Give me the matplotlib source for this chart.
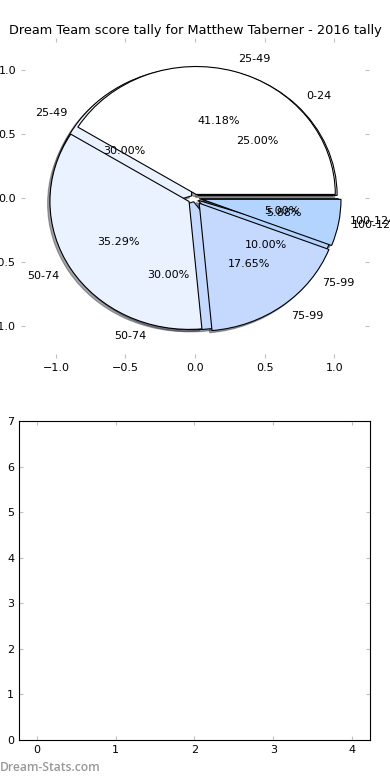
import matplotlib
matplotlib.use('Agg')
import matplotlib.pyplot as plt

# tally 2016 (pie de cima) e tally anterior (pie de baixo)
labels_2016 = ['25-49', '50-74', '75-99', '100-124']
counts_2016 = [7, 6, 3, 1]
labels_prev = ['0-24', '25-49', '50-74', '75-99', '100-124']
counts_prev = [5, 6, 6, 2, 1]
cores = ['#FFFFFF', '#EAF1FF', '#C5D9FF', '#B3D4FF', '#A8CCFF']

plt.rcParams['font.size'] = 8

fig = plt.figure(figsize=(3.9, 7.8), dpi=100)

# pie
ax1 = fig.add_axes([0.054, 0.541, 0.892, 0.41])
wp = {'edgecolor': 'black', 'linewidth': 0.8}
sombra = {'ox': -0.012, 'oy': -0.012, 'shade': 0.7}
ax1.pie(counts_prev, labels=labels_prev, colors=cores[:len(counts_prev)],
        autopct='%.2f%%', explode=[0.03] * len(counts_prev), shadow=sombra,
        wedgeprops=wp, textprops={'fontsize': 8})
ax1.pie(counts_2016, labels=labels_2016, colors=cores[:len(counts_2016)],
        autopct='%.2f%%', explode=[0.03, 0.05, 0.05, 0.05], shadow=sombra,
        wedgeprops=wp, textprops={'fontsize': 8})
ax1.set_aspect('auto')
ax1.set_frame_on(False)
ax1.set_xlim(-1.25, 1.25)
ax1.set_ylim(-1.25, 1.25)
ax1.set_xticks([-1.0, -0.5, 0.0, 0.5, 1.0])
ax1.set_yticks([-1.0, -0.5, 0.0, 0.5, 1.0])
ax1.tick_params(direction='in', length=3, color='#c0c0c0', labelsize=8,
                top=True, right=True)
ax1.set_title('Dream Team score tally for Matthew Taberner - 2016 tally',
              fontsize=9.3, pad=3)

# grafico vazio embaixo
ax2 = fig.add_axes([0.0487, 0.0513, 0.9, 0.409])
ax2.set_xlim(-0.23, 4.23)
ax2.set_ylim(0, 7)
ax2.set_xticks(range(5))
ax2.set_yticks(range(8))
ax2.tick_params(direction='in', length=3, color='#c0c0c0', labelsize=8,
                top=True, right=True)

fig.text(0.0, 0.011, 'Dream-Stats.com', fontsize=8.7, color='#999999',
         fontweight='semibold', family=['Open Sans', 'DejaVu Sans'])

fig.savefig('out.png', dpi=100)
